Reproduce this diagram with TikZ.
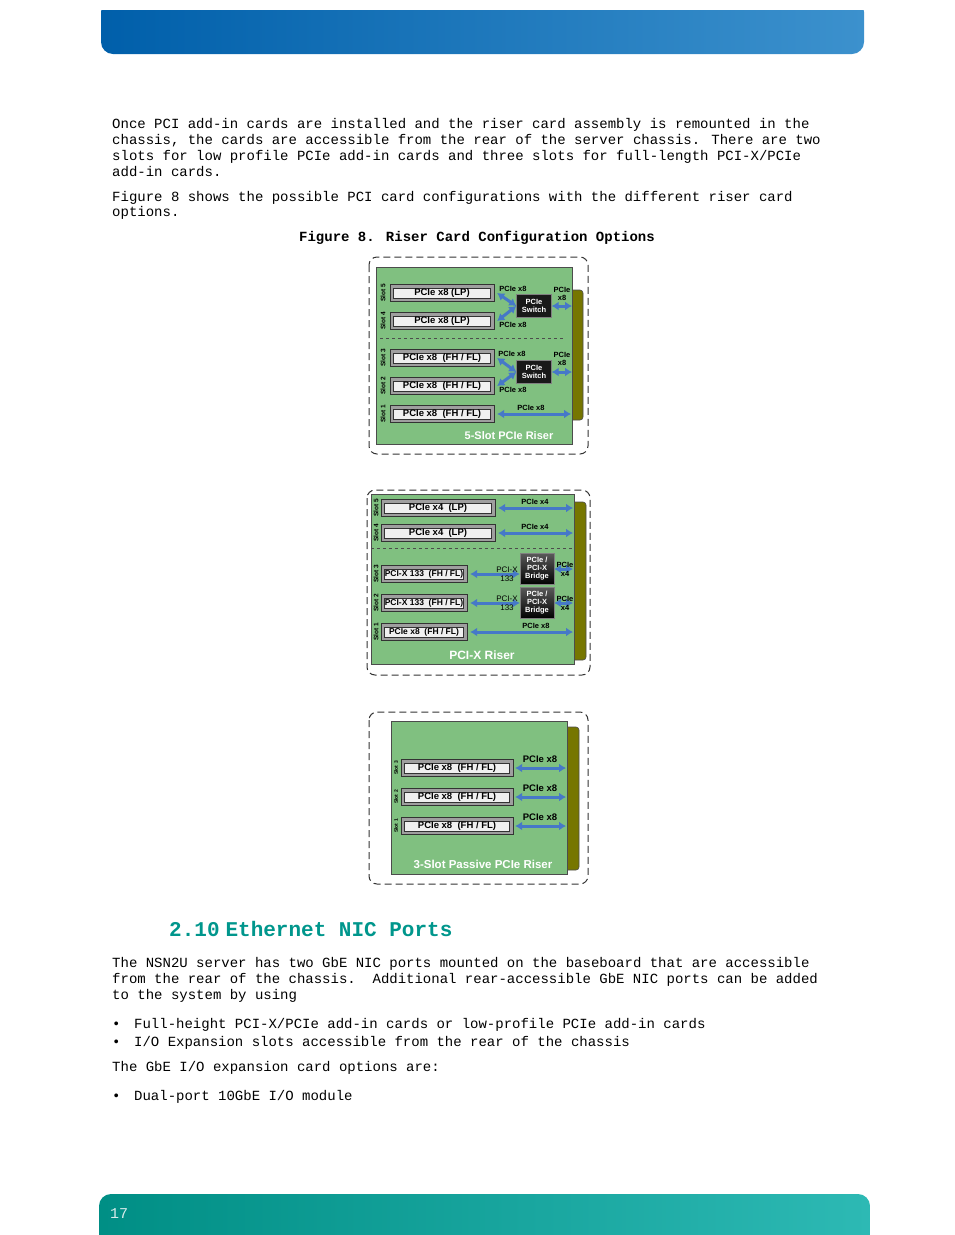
\documentclass[tikz,border=0pt]{standalone}
\usepackage{fontspec}
\setmainfont{Liberation Mono}
\newfontfamily\diagfont{Liberation Sans}
\usetikzlibrary{arrows.meta}
\definecolor{boardGreen}{RGB}{128,192,128}
\definecolor{barOlive}{RGB}{118,118,0}
\definecolor{linkBlue}{RGB}{70,120,200}
\definecolor{headTeal}{RGB}{0,150,140}
\tikzset{
  body/.style={anchor=base west, font=\fontsize{14}{16}\selectfont, inner sep=0pt},
  board/.style={fill=boardGreen, draw=black!70, line width=0.6pt},
  olive/.style={fill=barOlive, draw=black!70, line width=0.6pt, rounded corners=3pt},
  frame/.style={draw=black!80, dashed, dash pattern=on 7pt off 4pt, line width=1pt, rounded corners=8pt},
  slotouter/.style={fill=gray!75, draw=black!80, minimum height=17pt, inner sep=0pt},
  slotinner/.style={fill=gray!12, draw=black!80, minimum height=10pt, inner sep=0pt,
    font=\diagfont\bfseries\fontsize{9.5}{10}\selectfont},
  slotlbl/.style={rotate=90, font=\diagfont\bfseries\fontsize{6.5}{7}\selectfont, inner sep=0pt},
  lnk/.style={font=\diagfont\bfseries\fontsize{7.5}{8}\selectfont, inner sep=0pt, align=center},
  chip/.style={fill=black!90, draw=gray, text=white, align=center, inner sep=0pt,
    font=\diagfont\bfseries\fontsize{7.5}{8}\selectfont},
  bus/.style={color=linkBlue, line width=3pt, >={Latex[length=7pt,width=9pt]}, <->},
  title/.style={text=white, font=\diagfont\bfseries\fontsize{11}{12}\selectfont, inner sep=0pt},
  bul/.style={body}
}
\newcommand\pcislot[5]{% name, centre x, centre y, width, text
  \node[slotouter, minimum width=#4] (#1) at (#2,#3) {};
  \node[slotinner, minimum width=#4-7] at (#1) {#5};}
\begin{document}
\begin{tikzpicture}[x=1pt, y=-1pt]
  \useasboundingbox (0,0) rectangle (954,1235);
  % header and footer bands
  \shade[left color={rgb,255:red,0;green,95;blue,170}, right color={rgb,255:red,60;green,145;blue,205},
    rounded corners=12pt] (101,0) rectangle (864,54);
  \fill[white] (101,0) rectangle (864,10);
  \shade[left color=headTeal!95!black, right color={rgb,255:red,45;green,185;blue,180},
    rounded corners=12pt] (99,1194) rectangle (870,1250);
  \node[anchor=base west, text=white!85!teal, font=\fontsize{15}{16}\selectfont, inner sep=0pt] (pagenum) at (110,1218) {17};
  % text
  \node[body] (p1a) at (112,128) {Once PCI add-in cards are installed and the riser card assembly is remounted in the};
  \node[body] (p1b) at (112,144) {chassis, the cards are accessible from the rear of the server chassis. There are two};
  \node[body] (p1c) at (112,160) {slots for low profile PCIe add-in cards and three slots for full-length PCI-X/PCIe};
  \node[body] (p1d) at (112,176) {add-in cards.};
  \node[body] (p2a) at (112,201) {Figure 8 shows the possible PCI card configurations with the different riser card};
  \node[body] (p2b) at (112,216) {options.};
  \node[body, anchor=base, font=\bfseries\fontsize{14}{16}\selectfont] (cap) at (477,241) {Figure 8. Riser Card Configuration Options};

  %%%%%%%%%%%%% 5-slot riser
  \draw[frame] (369,257) rectangle (588,454);
  \draw[olive] (565,290) rectangle (583,420);
  \draw[board] (376,267) rectangle (572,444);
  \pcislot{a5}{442}{293}{104}{PCIe x8 (LP)}
  \pcislot{a4}{442}{321}{104}{PCIe x8 (LP)}
  \pcislot{a3}{442}{358}{104}{PCIe x8 \ (FH / FL)}
  \pcislot{a2}{442}{386}{104}{PCIe x8 \ (FH / FL)}
  \pcislot{a1}{442}{414}{104}{PCIe x8 \ (FH / FL)}
  \foreach \y/\n in {293/5,321/4,358/3,386/2,414/1}
    \node[slotlbl] at (383,\y) {Slot \n};
  \draw[dashed, black!70] (380,338) -- (565,338);
  \node[chip, minimum width=35pt, minimum height=23pt] (sw1) at (534,306) {PCIe\\Switch};
  \node[chip, minimum width=35pt, minimum height=23pt] (sw2) at (534,372) {PCIe\\Switch};
  \draw[bus] (a5.east) ++(3,0) -- (sw1.west);
  \draw[bus] (a4.east) ++(3,0) -- (sw1.west);
  \draw[bus] (a3.east) ++(3,0) -- (sw2.west);
  \draw[bus] (a2.east) ++(3,0) -- (sw2.west);
  \draw[bus] (sw1.east) -- (572,306);
  \draw[bus] (sw2.east) -- (572,372);
  \draw[bus] (a1.east) ++(3,0) -- (571,414);
  \node[lnk] at (513,289) {PCIe x8};
  \node[lnk] at (513,325) {PCIe x8};
  \node[lnk] at (512,354) {PCIe x8};
  \node[lnk] at (513,390) {PCIe x8};
  \node[lnk] at (562,294) {PCIe\\x8};
  \node[lnk] at (562,359) {PCIe\\x8};
  \node[lnk] at (531,408) {PCIe x8};
  \node[title] at (509,436) {5-Slot PCIe Riser};

  %%%%%%%%%%%%% PCI-X riser
  \draw[frame] (367,490) rectangle (590,675);
  \draw[olive] (568,502) rectangle (586,660);
  \draw[board] (371,494) rectangle (574,664);
  \pcislot{b5}{438}{508}{114}{PCIe x4 \ (LP)}
  \pcislot{b4}{438}{533}{114}{PCIe x4 \ (LP)}
  \pcislot{b3}{424}{574}{86}{\fontsize{8.5}{9}\selectfont PCI-X 133 \ (FH / FL)}
  \pcislot{b2}{424}{603}{86}{\fontsize{8.5}{9}\selectfont PCI-X 133 \ (FH / FL)}
  \pcislot{b1}{424}{632}{86}{\fontsize{8.5}{9}\selectfont PCIe x8 \ (FH / FL)}
  \foreach \y/\n in {508/5,533/4,574/3,603/2,632/1}
    \node[slotlbl] at (376,\y) {Slot \n};
  \draw[dashed, black!70] (371,548) -- (573,548);
  \node[chip, minimum width=34pt, minimum height=31pt, top color=gray!70!black, bottom color=black] (br1) at (537,569) {PCIe /\\PCI-X\\Bridge};
  \node[chip, minimum width=34pt, minimum height=31pt, top color=gray!70!black, bottom color=black] (br2) at (537,603) {PCIe /\\PCI-X\\Bridge};
  \draw[bus] (b5.east) ++(3,0) -- (573,508);
  \draw[bus] (b4.east) ++(3,0) -- (573,533);
  \draw[bus] (b3.east) ++(3,0) -- (br1.west |- b3);
  \draw[bus] (b2.east) ++(3,0) -- (br2.west |- b2);
  \draw[bus] (br1.east) -- (573,569);
  \draw[bus] (br2.east) -- (573,603);
  \draw[bus] (b1.east) ++(3,0) -- (573,632);
  \node[lnk] at (535,502) {PCIe x4};
  \node[lnk] at (535,527) {PCIe x4};
  \node[lnk, font=\diagfont\fontsize{8}{8}\selectfont] at (507,574) {PCI-X\\[1pt]133};
  \node[lnk, font=\diagfont\fontsize{8}{8}\selectfont] at (507,603) {PCI-X\\[1pt]133};
  \node[lnk] at (565,569) {PCIe\\[1pt]x4};
  \node[lnk] at (565,603) {PCIe\\[1pt]x4};
  \node[lnk] at (536,626) {PCIe x8};
  \node[title, font=\diagfont\bfseries\fontsize{12}{13}\selectfont] at (482,655) {PCI-X Riser};

  %%%%%%%%%%%%% 3-slot passive riser
  \draw[frame] (369,712) rectangle (588,884);
  \draw[olive] (561,727) rectangle (579,870);
  \draw[board] (391,721) rectangle (567,874);
  \pcislot{c3}{457}{768}{112}{PCIe x8 \ (FH / FL)}
  \pcislot{c2}{457}{797}{112}{PCIe x8 \ (FH / FL)}
  \pcislot{c1}{457}{826}{112}{PCIe x8 \ (FH / FL)}
  \foreach \y/\n in {768/3,797/2,826/1}
    \node[slotlbl, font=\diagfont\bfseries\fontsize{5}{5}\selectfont] at (396,\y) {Slot \n};
  \foreach \s/\y in {c3/768,c2/797,c1/826} {
    \draw[bus] (\s.east) ++(2,0) -- (566,\y);
    \node[lnk, font=\diagfont\bfseries\fontsize{9.5}{10}\selectfont] at (540,\y-9) {PCIe x8};
  }
  \node[title, font=\diagfont\bfseries\fontsize{11.5}{12}\selectfont] at (483,864) {3-Slot Passive PCIe Riser};

  % section text
  \node[body, anchor=base west, text=headTeal, font=\bfseries\fontsize{21}{24}\selectfont] (sec) at (169,936) {2.10\kern6pt Ethernet NIC Ports};
  \node[body] (p3a) at (112,967) {The NSN2U server has two GbE NIC ports mounted on the baseboard that are accessible};
  \node[body] (p3b) at (112,983) {from the rear of the chassis.\ \ Additional rear-accessible GbE NIC ports can be added};
  \node[body] (p3c) at (112,999) {to the system by using};
  \node[bul] (bu1) at (112,1028) {\makebox[22pt][l]{\textbullet}Full-height PCI-X/PCIe add-in cards or low-profile PCIe add-in cards};
  \node[bul] (bu2) at (112,1046) {\makebox[22pt][l]{\textbullet}I/O Expansion slots accessible from the rear of the chassis};
  \node[body] (p4) at (112,1071) {The GbE I/O expansion card options are:};
  \node[bul] (bu3) at (112,1100) {\makebox[22pt][l]{\textbullet}Dual-port 10GbE I/O module};
\end{tikzpicture}
\end{document}
